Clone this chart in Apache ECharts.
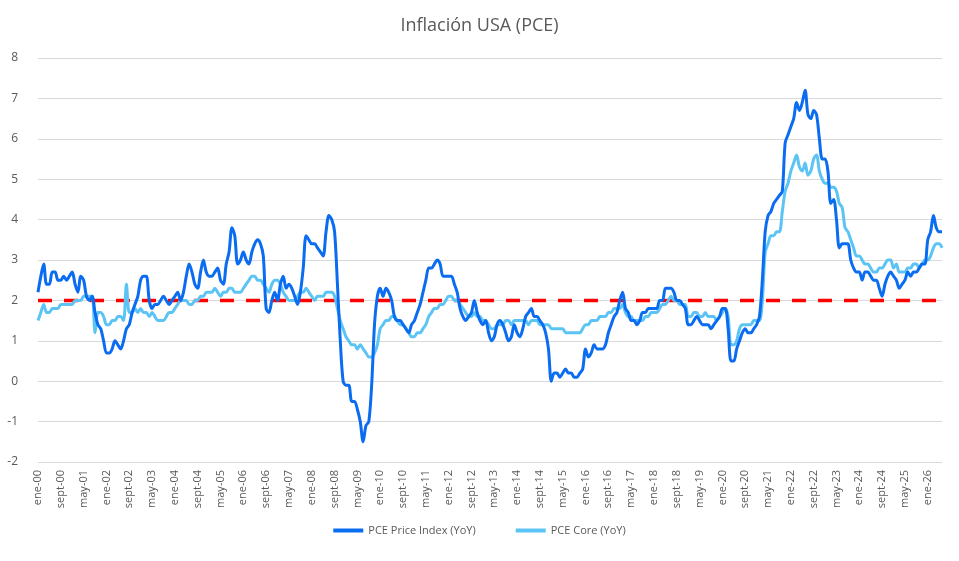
<!DOCTYPE html>
<html><head><meta charset="utf-8">
<script src="https://cdn.jsdelivr.net/npm/echarts@6/dist/echarts.min.js"></script>
<style>html,body{margin:0;padding:0;background:#fff}#c{width:959px;height:561px}</style>
</head><body><div id="c"></div>
<script>
const monthNames=['ene','feb','mar','abr','may','jun','jul','ago','sept','oct','nov','dic'];
const startYear=2000, monthCount=318;
const categories=[];
for(let i=0;i<monthCount;i++){const y=startYear+Math.floor(i/12);categories.push(monthNames[i%12]+'-'+String(y%100).padStart(2,'0'));}
const pceHeadline=[
2.2,2.6,2.9,2.4,2.4,2.7,2.7,2.5,2.5,2.6,2.5,2.6,
2.7,2.4,2.2,2.6,2.5,2.1,2.0,2.1,1.7,1.4,1.3,1.0,
0.7,0.7,0.8,1.0,0.9,0.8,1.0,1.3,1.4,1.7,1.9,2.1,
2.5,2.6,2.6,2.0,1.8,1.9,1.9,2.0,2.1,2.0,1.9,2.0,
2.1,2.2,2.0,2.2,2.6,2.9,2.7,2.4,2.3,2.7,3.0,2.7,
2.6,2.6,2.7,2.8,2.5,2.4,2.9,3.2,3.8,3.6,2.9,3.0,
3.2,3.0,2.9,3.2,3.4,3.5,3.4,3.1,1.8,1.7,2.0,2.2,
2.0,2.4,2.6,2.3,2.4,2.3,2.1,1.9,2.2,2.8,3.6,3.5,
3.4,3.4,3.3,3.2,3.1,3.7,4.1,4.0,3.7,2.4,1.0,0.0,
-0.1,-0.1,-0.5,-0.5,-0.7,-1.0,-1.5,-1.1,-1.0,-0.1,1.4,2.1,
2.3,2.1,2.3,2.2,2.0,1.6,1.5,1.5,1.4,1.3,1.2,1.4,
1.5,1.7,1.9,2.2,2.5,2.8,2.8,2.9,3.0,2.9,2.6,2.6,
2.6,2.6,2.4,2.2,1.8,1.6,1.5,1.6,1.7,2.0,1.7,1.5,
1.4,1.5,1.2,1.0,1.1,1.4,1.5,1.4,1.2,1.0,1.1,1.4,
1.2,1.1,1.3,1.6,1.7,1.8,1.6,1.6,1.5,1.4,1.2,0.8,
0.0,0.2,0.2,0.1,0.2,0.3,0.2,0.2,0.1,0.1,0.2,0.3,
0.8,0.6,0.7,0.9,0.8,0.8,0.8,0.9,1.2,1.4,1.6,1.7,
2.0,2.2,1.8,1.7,1.5,1.5,1.4,1.5,1.7,1.7,1.8,1.8,
1.8,1.8,2.0,2.0,2.3,2.3,2.3,2.2,2.0,2.0,1.9,1.8,
1.4,1.4,1.5,1.6,1.5,1.4,1.4,1.4,1.3,1.4,1.5,1.6,
1.8,1.8,1.3,0.5,0.5,0.8,1.0,1.2,1.3,1.2,1.2,1.3,
1.4,1.6,2.5,3.7,4.1,4.2,4.4,4.5,4.6,4.7,5.9,6.1,
6.3,6.5,6.9,6.7,6.9,7.2,6.6,6.5,6.7,6.6,6.0,5.5,
5.5,5.2,4.4,4.5,4.0,3.3,3.4,3.4,3.4,3.0,2.8,2.7,
2.7,2.5,2.7,2.7,2.6,2.5,2.5,2.3,2.1,2.4,2.6,2.7,
2.6,2.5,2.3,2.4,2.5,2.7,2.6,2.7,2.7,2.8,2.9,2.9,
3.5,3.7,4.1,3.8,3.7,3.7];
const pceCore=[
1.5,1.7,1.9,1.7,1.7,1.8,1.8,1.8,1.9,1.9,1.9,1.9,
1.9,2.0,2.0,2.0,2.1,2.1,2.1,2.1,1.2,1.7,1.7,1.6,
1.4,1.4,1.5,1.5,1.6,1.6,1.5,2.4,1.7,1.7,1.8,1.7,
1.8,1.7,1.7,1.6,1.7,1.6,1.5,1.5,1.5,1.6,1.7,1.7,
1.8,1.9,2.0,2.0,2.0,1.9,1.9,2.0,2.0,2.1,2.1,2.2,
2.2,2.2,2.3,2.2,2.1,2.2,2.2,2.3,2.3,2.2,2.2,2.2,
2.3,2.4,2.5,2.6,2.6,2.5,2.5,2.4,2.3,2.2,2.4,2.5,
2.5,2.4,2.2,2.1,2.0,2.0,2.0,2.1,2.2,2.2,2.3,2.2,
2.1,2.0,2.1,2.1,2.1,2.2,2.2,2.2,2.1,1.8,1.5,1.3,
1.1,1.0,0.9,0.9,0.8,0.9,0.8,0.7,0.6,0.6,0.7,0.9,
1.3,1.4,1.5,1.5,1.6,1.6,1.5,1.4,1.4,1.3,1.2,1.1,
1.1,1.2,1.2,1.3,1.4,1.6,1.7,1.8,1.8,1.9,1.9,2.0,
2.1,2.1,2.0,2.0,1.9,1.8,1.7,1.6,1.6,1.7,1.6,1.6,
1.5,1.5,1.4,1.3,1.3,1.4,1.4,1.4,1.5,1.5,1.4,1.5,
1.5,1.5,1.5,1.5,1.4,1.5,1.5,1.5,1.4,1.4,1.4,1.4,
1.3,1.3,1.3,1.3,1.3,1.2,1.2,1.2,1.2,1.2,1.2,1.3,
1.4,1.4,1.5,1.5,1.5,1.6,1.6,1.6,1.7,1.7,1.8,1.8,
1.8,1.9,1.7,1.6,1.6,1.5,1.5,1.5,1.5,1.6,1.6,1.7,
1.7,1.7,1.8,1.9,1.9,2.0,2.1,2.0,2.0,1.9,1.9,1.9,
1.6,1.6,1.7,1.7,1.6,1.6,1.7,1.6,1.6,1.6,1.5,1.6,
1.7,1.8,1.6,0.9,0.9,1.0,1.3,1.4,1.4,1.4,1.4,1.5,
1.5,1.5,2.0,3.2,3.4,3.6,3.6,3.7,3.7,4.2,4.7,4.9,
5.2,5.4,5.6,5.3,5.2,5.4,5.1,5.2,5.5,5.6,5.2,5.0,
4.9,4.9,4.8,4.8,4.7,4.4,4.3,3.8,3.7,3.5,3.3,3.1,
3.1,3.0,2.9,2.9,2.8,2.7,2.7,2.8,2.8,2.9,3.0,3.0,
2.8,2.9,2.7,2.7,2.7,2.8,2.8,2.9,2.9,2.8,2.9,3.0,
3.0,3.1,3.3,3.4,3.4,3.3];
const targetValue=2;
const targetLine=categories.map(()=>targetValue);
const yTicks={min:-2,max:8,interval:1};

const chart=echarts.init(document.getElementById('c'));
chart.setOption({
  animation:false,
  title:{text:'Inflación USA (PCE)',left:'center',top:12,textStyle:{color:'#595959',fontSize:18,fontWeight:'normal',fontFamily:'Open Sans'}},
  legend:{bottom:20,itemGap:40,icon:'path://M0,0H30V4H0Z',itemWidth:30,itemHeight:4,
    data:['PCE Price Index (YoY)','PCE Core (YoY)'],textStyle:{color:'#595959',fontSize:11,fontFamily:'Open Sans'}},
  grid:{left:38,right:17,top:58,bottom:99,containLabel:false},
  xAxis:{type:'category',data:categories,boundaryGap:false,
    axisLine:{lineStyle:{color:'#d9d9d9'}},axisTick:{show:false},
    axisLabel:{interval:7,rotate:90,color:'#595959',fontSize:11,fontFamily:'Open Sans'}},
  yAxis:{type:'value',min:yTicks.min,max:yTicks.max,interval:yTicks.interval,
    axisLine:{show:false},axisTick:{show:false},
    splitLine:{lineStyle:{color:'#d9d9d9',width:1}},
    axisLabel:{color:'#595959',fontSize:12,fontFamily:'Open Sans',margin:20}},
  series:[
    {name:'Objetivo',type:'line',data:targetLine,symbol:'none',z:1,
      lineStyle:{color:'#ff0000',width:3.5,type:[14,12]}},
    {name:'PCE Core (YoY)',type:'line',data:pceCore,symbol:'none',smooth:0.3,z:2,
      itemStyle:{color:'#5bc4f5'},lineStyle:{color:'#5bc4f5',width:3}},
    {name:'PCE Price Index (YoY)',type:'line',data:pceHeadline,symbol:'none',smooth:0.3,z:3,
      itemStyle:{color:'#0a6cf0'},lineStyle:{color:'#0a6cf0',width:3}}
  ]
});
</script></body></html>
